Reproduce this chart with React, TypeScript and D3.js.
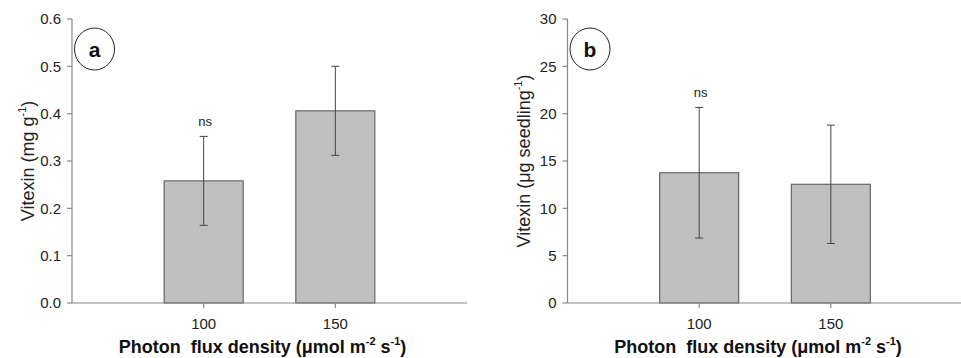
import React from "react";
import * as d3 from "d3";

const categories = [100, 150];
const vitexinConc = [0.258, 0.406];
const vitexinConcErr = [0.094, 0.094];
const vitexinSeed = [13.76, 12.54];
const vitexinSeedErr = [6.9, 6.25];
const ticksA = [0, 0.1, 0.2, 0.3, 0.4, 0.5, 0.6];
const ticksB = [0, 5, 10, 15, 20, 25, 30];
const nsLabels = ["ns", "ns"];

const FONT = "'Liberation Sans', Arial, sans-serif";
const AXIS = "#888";

type PanelProps = {
  x0: number;
  letter: string;
  values: number[];
  errs: number[];
  ticks: number[];
  fmt: (v: number) => string;
  yMax: number;
  yLabel: React.ReactNode;
};

function Panel({ x0, letter, values, errs, ticks, fmt, yMax, yLabel }: PanelProps) {
  const top = 19;
  const bottom = 303;
  const width = 395;
  const x = d3.scaleLinear().domain([50, 200]).range([x0, x0 + width]);
  const y = d3.scaleLinear().domain([0, yMax]).range([bottom, top]);
  const bw = x(80) - x(50);
  return (
    <g>
      {categories.map((c, i) => (
        <rect
          key={"b" + i}
          x={x(c) - bw / 2}
          y={y(values[i])}
          width={bw}
          height={bottom - y(values[i])}
          fill="#c0c0c0"
          stroke="#666"
          strokeWidth={1.2}
        />
      ))}
      {categories.map((c, i) => {
        const cx = x(c);
        const yt = y(values[i] + errs[i]);
        const yb = y(values[i] - errs[i]);
        return (
          <g key={"e" + i} stroke="#444" strokeWidth={1}>
            <line x1={cx} x2={cx} y1={yt} y2={yb} />
            <line x1={cx - 4} x2={cx + 4} y1={yt} y2={yt} />
            <line x1={cx - 4} x2={cx + 4} y1={yb} y2={yb} />
          </g>
        );
      })}
      {(() => {
        const i = 0;
        const yt = y(values[i] + errs[i]);
        return (
          <text
            x={x(categories[i]) + 1.5}
            y={yt - 10}
            textAnchor="middle"
            fontFamily={FONT}
            fontSize={13}
            fill="#222"
          >
            {nsLabels[i]}
          </text>
        );
      })()}
      <line x1={x0} x2={x0} y1={top} y2={bottom} stroke={AXIS} strokeWidth={1.2} />
      {ticks.map((t) => (
        <g key={"t" + t}>
          <line x1={x0 - 5} x2={x0} y1={y(t)} y2={y(t)} stroke={AXIS} strokeWidth={1.2} />
          <text
            x={x0 - 11}
            y={y(t)}
            dy="0.36em"
            textAnchor="end"
            fontFamily={FONT}
            fontSize={15}
            fill="#222"
          >
            {fmt(t)}
          </text>
        </g>
      ))}
      <line x1={x0} x2={x0 + width} y1={bottom} y2={bottom} stroke={AXIS} strokeWidth={1.2} />
      {categories.map((c) => (
        <g key={"x" + c}>
          <line x1={x(c)} x2={x(c)} y1={bottom} y2={bottom + 5} stroke={AXIS} strokeWidth={1.2} />
          <text
            x={x(c)}
            y={bottom + 25.5}
            textAnchor="middle"
            fontFamily={FONT}
            fontSize={15}
            fill="#222"
          >
            {c}
          </text>
        </g>
      ))}
      <text
        x={x(125) - 7}
        y={353}
        textAnchor="middle"
        fontFamily={FONT}
        fontSize={18}
        fontWeight="bold"
        fill="#111"
      >
        {"Photon\u00a0 flux density ("}
        <tspan>μ</tspan>
        {"mol m"}
        <tspan fontSize={11} dy={-8}>-2</tspan>
        <tspan dy={8}> s</tspan>
        <tspan fontSize={11} dy={-8}>-1</tspan>
        <tspan dy={8}>)</tspan>
      </text>
      <text
        transform={`translate(${x0 - 38},${(top + bottom) / 2}) rotate(-90)`}
        textAnchor="middle"
        fontFamily={FONT}
        fontSize={18}
        fill="#222"
      >
        {yLabel}
      </text>
      <ellipse cx={x0 + 22.5} cy={49} rx={20} ry={21} fill="white" stroke="#222" strokeWidth={1} />
      <text
        x={x0 + 22.5}
        y={49}
        dy="0.36em"
        textAnchor="middle"
        fontFamily={FONT}
        fontSize={21}
        fontWeight="bold"
        fill="#111"
      >
        {letter}
      </text>
    </g>
  );
}

export default function App() {
  return (
    <svg
      width={961}
      height={358}
      style={{ position: "absolute", left: 0, top: 0, background: "white" }}
    >
      <Panel
        x0={72}
        letter="a"
        values={vitexinConc}
        errs={vitexinConcErr}
        ticks={ticksA}
        fmt={(v) => v.toFixed(1)}
        yMax={0.6}
        yLabel={
          <>
            {"Vitexin (mg g"}
            <tspan fontSize={11} dy={-8}>-1</tspan>
            <tspan dy={8}>)</tspan>
          </>
        }
      />
      <Panel
        x0={567.5}
        letter="b"
        values={vitexinSeed}
        errs={vitexinSeedErr}
        ticks={ticksB}
        fmt={(v) => String(v)}
        yMax={30}
        yLabel={
          <>
            {"Vitexin ("}
            <tspan>μ</tspan>
            {"g seedling"}
            <tspan fontSize={11} dy={-8}>-1</tspan>
            <tspan dy={8}>)</tspan>
          </>
        }
      />
    </svg>
  );
}
